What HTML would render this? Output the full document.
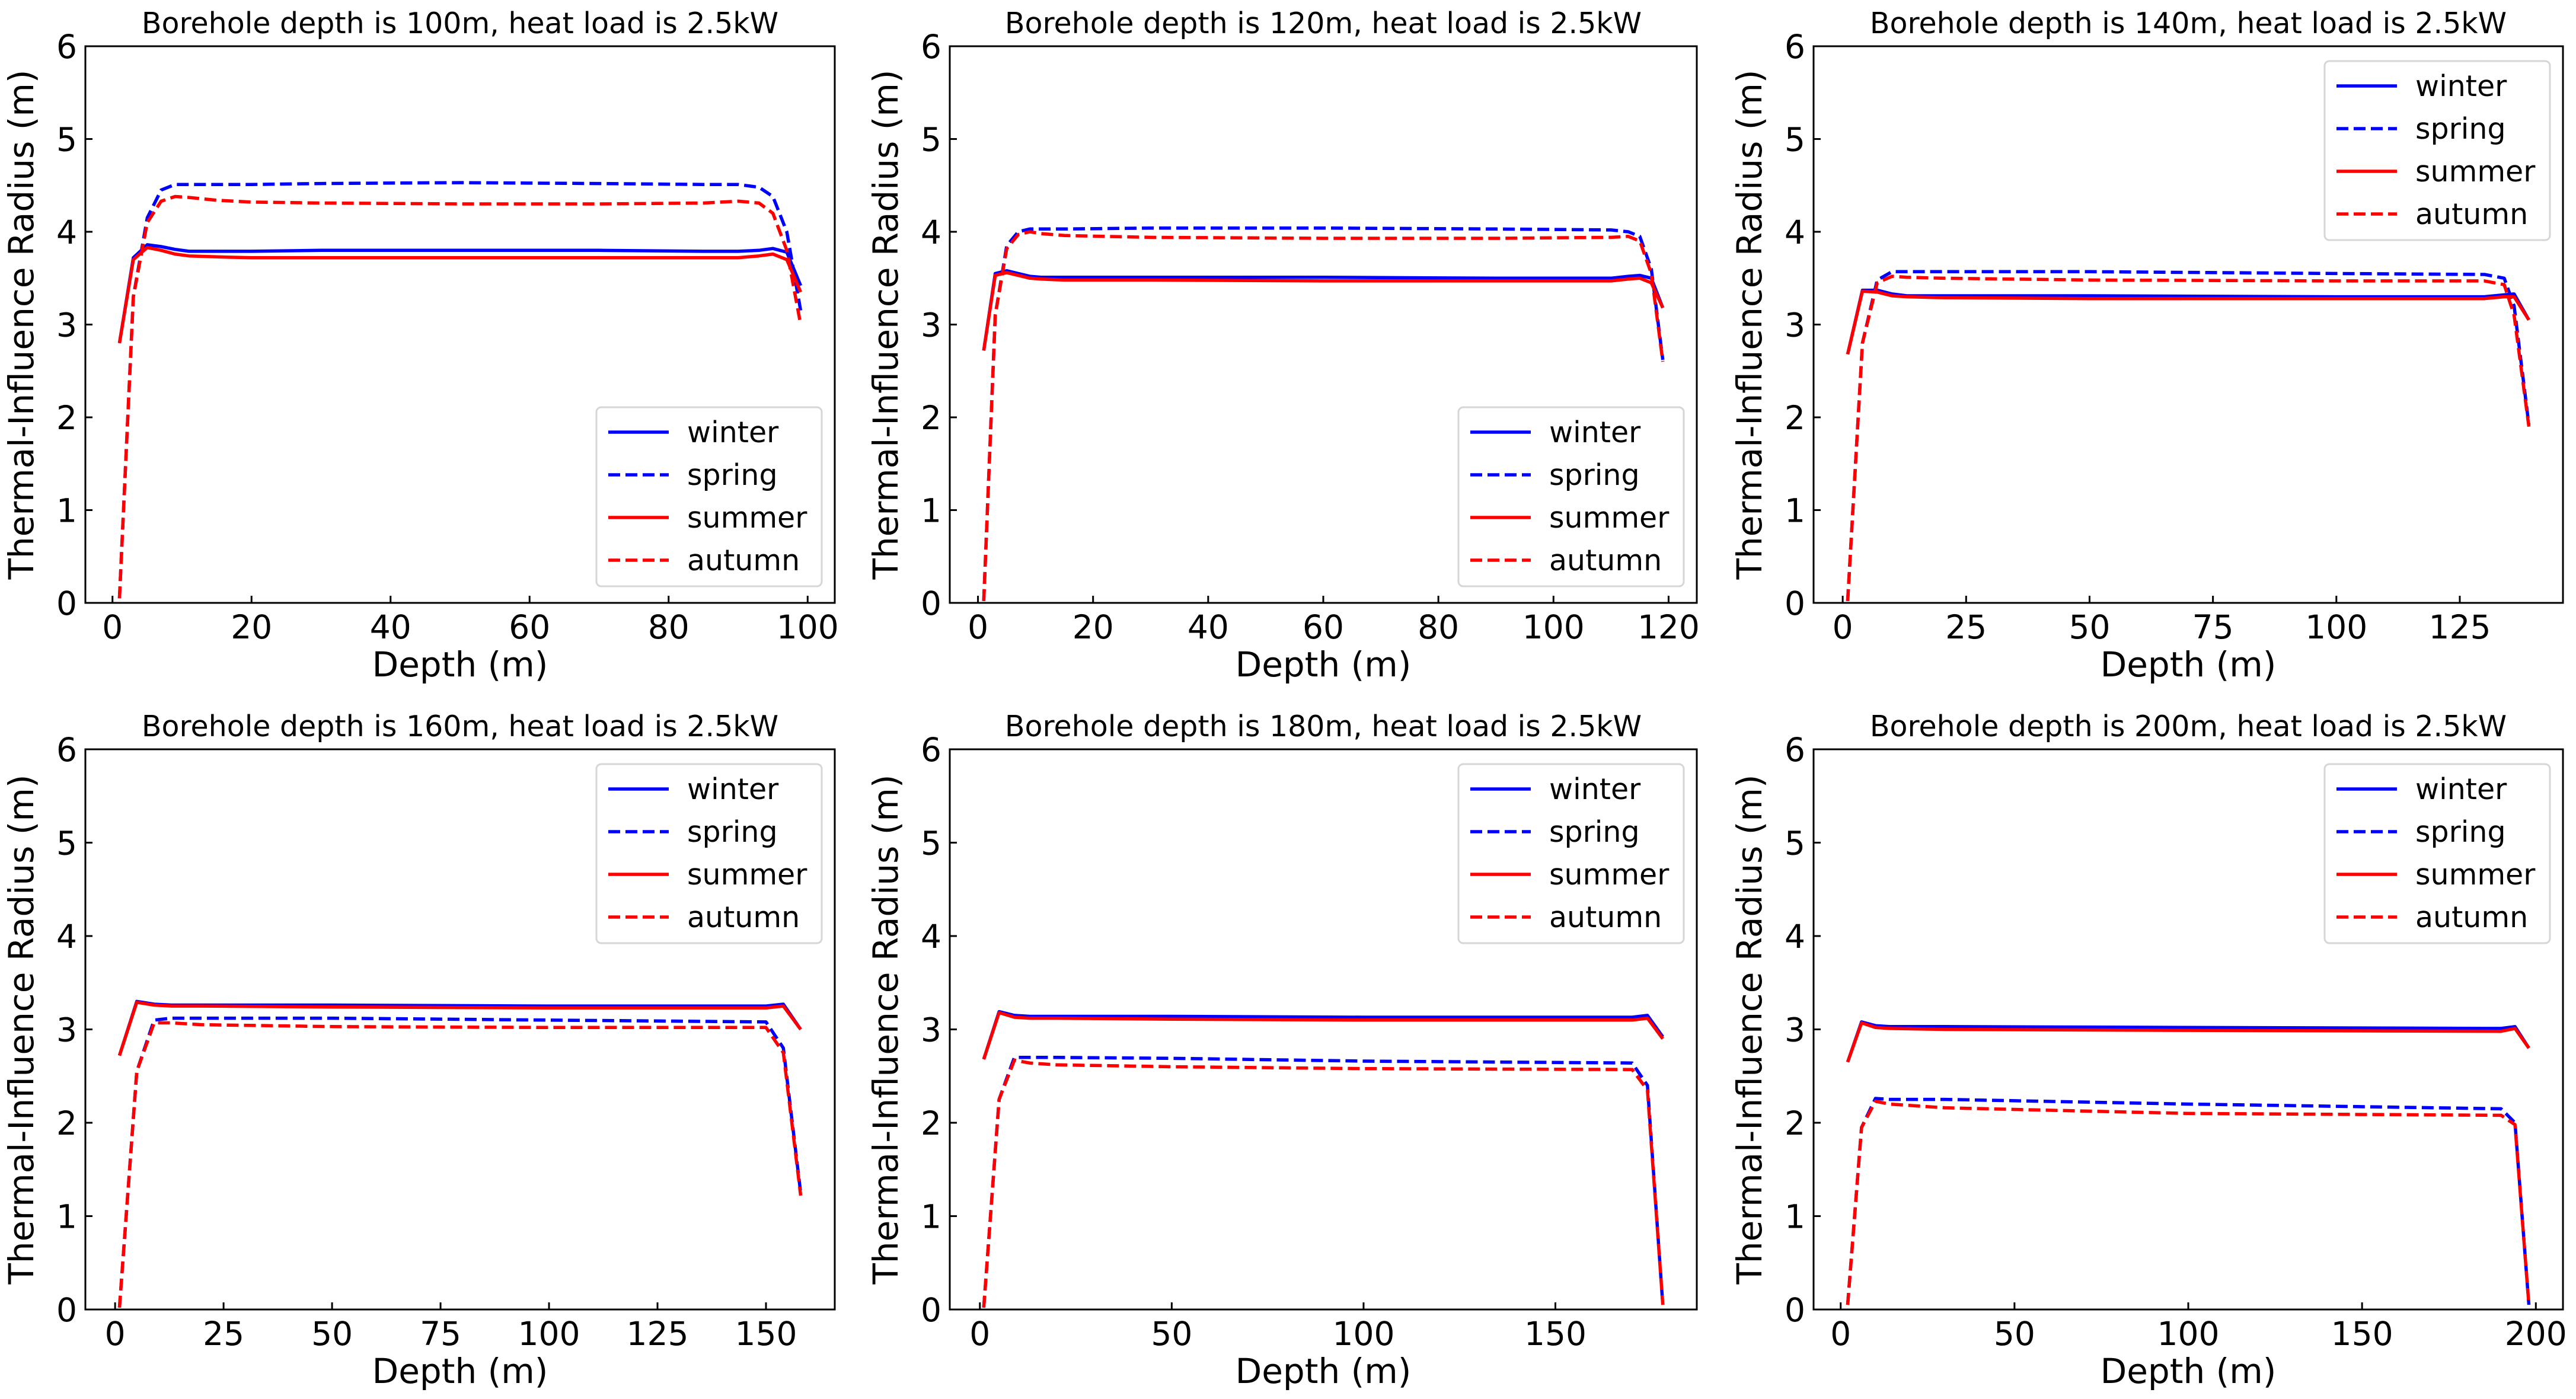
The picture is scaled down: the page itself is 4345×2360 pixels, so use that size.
<!DOCTYPE html>
<html><head><meta charset="utf-8"><style>
html,body{margin:0;padding:0;background:#fff;}
svg{display:block;font-family:"DejaVu Sans","Liberation Sans",sans-serif;}
</style></head><body>
<svg id="chart" width="4345" height="2360" xmlns="http://www.w3.org/2000/svg"></svg>
<script>
const boreDepths=[100,120,140,160,180,200];
const xs1=[1,3,5,7,9,11,15,20,30,50,70,85,90,93,95,97,99];
const winter1=[2.8,3.72,3.86,3.84,3.81,3.79,3.79,3.79,3.8,3.8,3.8,3.79,3.79,3.8,3.82,3.78,3.42];
const summer1=[2.8,3.7,3.83,3.8,3.76,3.74,3.73,3.72,3.72,3.72,3.72,3.72,3.72,3.74,3.76,3.7,3.35];
const spring1=[0.05,3.3,4.15,4.45,4.51,4.51,4.51,4.51,4.52,4.53,4.52,4.51,4.51,4.48,4.38,4.0,3.15];
const autumn1=[0.05,3.3,4.1,4.33,4.38,4.37,4.34,4.32,4.31,4.3,4.3,4.31,4.33,4.31,4.2,3.8,3.0];
const xs2=[1,3,5,7,9,11,15,30,60,90,110,113,115,117,119];
const winter2=[2.72,3.55,3.58,3.55,3.52,3.51,3.51,3.51,3.51,3.5,3.5,3.52,3.53,3.5,3.18];
const summer2=[2.72,3.53,3.56,3.53,3.5,3.49,3.48,3.48,3.47,3.47,3.47,3.49,3.5,3.45,3.18];
const spring2=[0.02,3.1,3.85,4.0,4.03,4.03,4.03,4.04,4.04,4.03,4.02,4.0,3.95,3.6,2.62];
const autumn2=[0.02,3.1,3.82,3.97,4.0,3.98,3.96,3.94,3.93,3.93,3.94,3.95,3.9,3.55,2.6];
const xs3=[1,4,7,10,13,20,50,100,130,134,136,139];
const winter3=[2.68,3.37,3.37,3.33,3.31,3.31,3.31,3.3,3.3,3.32,3.33,3.05];
const summer3=[2.68,3.36,3.35,3.31,3.3,3.29,3.28,3.28,3.28,3.3,3.3,3.05];
const spring3=[0.02,2.8,3.48,3.57,3.57,3.57,3.57,3.55,3.54,3.5,3.2,1.92];
const autumn3=[0.02,2.8,3.45,3.52,3.51,3.5,3.48,3.47,3.47,3.43,3.1,1.9];
const xs4=[1,5,9,13,20,50,100,150,154,158];
const winter4=[2.72,3.3,3.27,3.26,3.26,3.26,3.25,3.25,3.27,3.0];
const summer4=[2.72,3.29,3.26,3.25,3.25,3.24,3.23,3.23,3.25,3.0];
const spring4=[0.02,2.55,3.1,3.12,3.12,3.12,3.1,3.08,2.8,1.25];
const autumn4=[0.02,2.55,3.07,3.07,3.05,3.03,3.02,3.02,2.75,1.22];
const xs5=[1,5,9,13,20,50,100,170,174,178];
const winter5=[2.68,3.19,3.15,3.14,3.14,3.14,3.13,3.13,3.15,2.92];
const summer5=[2.68,3.18,3.13,3.12,3.12,3.11,3.1,3.1,3.12,2.9];
const spring5=[0.02,2.25,2.7,2.7,2.7,2.69,2.66,2.64,2.4,0.05];
const autumn5=[0.02,2.25,2.67,2.64,2.62,2.6,2.58,2.57,2.35,0.05];
const xs6=[2,6,10,14,30,100,190,194,198];
const winter6=[2.65,3.08,3.04,3.03,3.03,3.02,3.01,3.03,2.8];
const summer6=[2.65,3.07,3.02,3.01,3.0,2.99,2.98,3.01,2.8];
const spring6=[0.05,1.95,2.26,2.25,2.25,2.2,2.15,2.0,0.05];
const autumn6=[0.05,1.95,2.23,2.2,2.16,2.1,2.08,1.98,0.05];
const xTicks=[[0,20,40,60,80,100],[0,20,40,60,80,100,120],[0,25,50,75,100,125],[0,25,50,75,100,125,150],[0,50,100,150],[0,50,100,150,200]];
const yTicks=[0,1,2,3,4,5,6];
const seriesNames=["winter","spring","summer","autumn"];
const legendPos=["lower","lower","upper","upper","upper","upper"];

const NS="http://www.w3.org/2000/svg";
const svg=document.getElementById('chart');
function mk(tag,attrs,parent){const e=document.createElementNS(NS,tag);for(const k in attrs)e.setAttribute(k,attrs[k]);(parent||svg).appendChild(e);return e;}
const panelX=[[144,1408],[1602,2862],[3059,4323]];
const panelY=[[78,1017],[1264,2209]];
const allData=[[xs1,winter1,spring1,summer1,autumn1],[xs2,winter2,spring2,summer2,autumn2],[xs3,winter3,spring3,summer3,autumn3],[xs4,winter4,spring4,summer4,autumn4],[xs5,winter5,spring5,summer5,autumn5],[xs6,winter6,spring6,summer6,autumn6]];
const styles=[{c:"#0000ff",d:null},{c:"#0000ff",d:"20,9"},{c:"#ff0000",d:null},{c:"#ff0000",d:"20,9"}];

for(let p=0;p<6;p++){
  const [L,R]=panelX[p%3],[T,B]=panelY[Math.floor(p/3)];
  const d=allData[p],xv=d[0];
  const mn=Math.min(...xv),mx=Math.max(...xv),m=(mx-mn)*0.05;
  const x0=mn-m,x1=mx+m;
  const X=v=>L+(v-x0)/(x1-x0)*(R-L);
  const Y=v=>B-v/6*(B-T);
  const g=mk('g',{});
  
  
  const t=mk('text',{x:(L+R)/2,y:T-22,'text-anchor':'middle','font-size':49},g);
  t.textContent='Borehole depth is '+boreDepths[p]+'m, heat load is 2.5kW';
  
  
  for(let s=0;s<4;s++){
    const pts=xv.map((x,i)=>X(x).toFixed(1)+','+Y(d[s+1][i]).toFixed(1)).join(' ');
    const a={points:pts,fill:'none',stroke:styles[s].c,'stroke-width':5.5,'stroke-linejoin':'round'};
    if(styles[s].d)a['stroke-dasharray']=styles[s].d;
    const pl=mk('polyline',a,g);
    
    
  }
  const fr=mk('rect',{x:L,y:T,width:R-L,height:B-T,fill:'none',stroke:'#000','stroke-width':3},g);
  
  
  for(const v of xTicks[p]){
    mk('line',{x1:X(v),x2:X(v),y1:B,y2:B-12,stroke:'#000','stroke-width':3},g);
    const tl=mk('text',{x:X(v),y:B+60,'text-anchor':'middle','font-size':55},g);
    tl.textContent=v;
    
    
  }
  for(const v of yTicks){
    mk('line',{x1:L,x2:L+12,y1:Y(v),y2:Y(v),stroke:'#000','stroke-width':3},g);
    const tl=mk('text',{x:L-14,y:Y(v)+20,'text-anchor':'end','font-size':55},g);
    tl.textContent=v;
    
    
  }
  const xl=mk('text',{x:(L+R)/2,y:B+124,'text-anchor':'middle','font-size':58},g);
  xl.textContent='Depth (m)';
  
  
  const yl=mk('text',{x:0,y:0,'text-anchor':'middle','font-size':58,transform:`translate(${L-88},${(T+B)/2}) rotate(-90)`},g);
  yl.textContent='Thermal-Influence Radius (m)';
  
  
  const lw=380,lh=302;
  const lx=R-22-lw, ly=legendPos[p]==='lower'?B-28-lh:T+25;
  const lg=mk('g',{},g);
  
  
  mk('rect',{x:lx,y:ly,width:lw,height:lh,rx:8,fill:'#fff',stroke:'#d6d6d6','stroke-width':3},lg);
  for(let s=0;s<4;s++){
    const yy=ly+42+s*72;
    const a={x1:lx+20,x2:lx+122,y1:yy,y2:yy,stroke:styles[s].c,'stroke-width':5.5};
    if(styles[s].d)a['stroke-dasharray']=styles[s].d;
    const ln=mk('line',a,lg);
    
    
    const tx=mk('text',{x:lx+153,y:yy+17,'font-size':49},lg);
    tx.textContent=seriesNames[s];
    
    
  }
}
</script>
</body></html>
